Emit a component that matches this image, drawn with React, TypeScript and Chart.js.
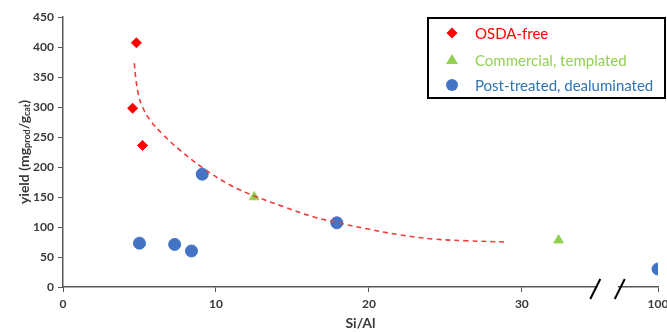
import React, { useEffect, useRef } from 'react';
import { Chart, registerables } from 'chart.js';

Chart.register(...registerables);

// ---- data ----
const osdaX = [4.8, 4.55, 5.2];
const osdaY = [407, 298, 236];
const commercialX = [12.5, 32.4];
const commercialY = [150, 78];
const postX = [9.1, 5.0, 7.3, 8.4, 17.9, 100];
const postY = [188, 73, 71, 60, 107, 30];
const trendX = [4.66, 4.75, 4.92, 5.2, 5.7, 6.5, 7.65, 9.17, 10.92, 12.48, 14.4, 16.36, 17.9, 19.85, 22.0, 24.2, 26.4, 29.0];
const trendY = [373, 350, 322, 300, 278, 255, 228, 198, 170, 152, 134, 117, 107.5, 97, 87, 80, 77, 75];
const xTickValues = [0, 10, 20, 30, 100];
const seriesNames = ['OSDA-free', 'Commercial, templated', 'Post-treated, dealuminated'];

// broken x axis: values past the break are drawn at the axis end
const AXIS_END = 38.9;
const BREAK_A = 34.8;
const BREAK_B = 36.4;
const axisPos = (v: number) => (v > 40 ? AXIS_END : v);

const FONT = 'Lato, "Open Sans", sans-serif';
const TEXT = '#3a3a3a';
const RED = '#ff0000';
const GREEN = '#92d050';
const BLUE = '#4472c4';

const pts = (xs: number[], ys: number[]) => xs.map((x, i) => ({ x: axisPos(x), y: ys[i] }));

const yTitlePlugin = {
  id: 'yTitle',
  afterDraw(chart: any) {
    const { ctx, chartArea } = chart;
    const parts: [string, boolean][] = [
      ['yield (mg', false],
      ['prod', true],
      ['/g', false],
      ['cat', true],
      [')', false],
    ];
    const big = `bold 14px ${FONT}`;
    const small = `bold 9px ${FONT}`;
    ctx.save();
    let total = 0;
    for (const [t, s] of parts) {
      ctx.font = s ? small : big;
      total += ctx.measureText(t).width;
    }
    ctx.translate(24, (chartArea.top + chartArea.bottom) / 2);
    ctx.rotate(-Math.PI / 2);
    ctx.fillStyle = TEXT;
    ctx.textBaseline = 'middle';
    let x = -total / 2;
    for (const [t, s] of parts) {
      ctx.font = s ? small : big;
      ctx.fillText(t, x, s ? 3 : 0);
      x += ctx.measureText(t).width;
    }
    ctx.restore();
  },
};

const breakPlugin = {
  id: 'axisBreak',
  afterDraw(chart: any) {
    const { ctx, chartArea } = chart;
    const xs = chart.scales.x;
    const y = chartArea.bottom;
    const p1 = xs.getPixelForValue(BREAK_A);
    const p2 = xs.getPixelForValue(BREAK_B);
    ctx.save();
    ctx.fillStyle = '#ffffff';
    ctx.fillRect(p1 + 2, y - 3, p2 - p1 - 4, 6);
    ctx.strokeStyle = '#000000';
    ctx.lineWidth = 2;
    for (const p of [p1, p2]) {
      ctx.beginPath();
      ctx.moveTo(p - 5, y + 12);
      ctx.lineTo(p + 5, y - 8);
      ctx.stroke();
    }
    ctx.restore();
  },
};

const legendPlugin = {
  id: 'boxLegend',
  afterDraw(chart: any) {
    const { ctx } = chart;
    const bx = 428, by = 18, bw = 237, bh = 80;
    ctx.save();
    ctx.strokeStyle = '#000000';
    ctx.lineWidth = 2;
    ctx.strokeRect(bx, by, bw, bh);
    const rows = [33, 60, 85];
    const colors = [RED, GREEN, BLUE];
    const textColors = [RED, GREEN, '#2e75b6'];
    const mx = 452;
    rows.forEach((ry, i) => {
      ctx.fillStyle = colors[i];
      ctx.beginPath();
      if (i === 0) {
        ctx.moveTo(mx, ry - 5.5);
        ctx.lineTo(mx + 5.5, ry);
        ctx.lineTo(mx, ry + 5.5);
        ctx.lineTo(mx - 5.5, ry);
      } else if (i === 1) {
        ctx.moveTo(mx, ry - 6);
        ctx.lineTo(mx + 6, ry + 4);
        ctx.lineTo(mx - 6, ry + 4);
      } else {
        ctx.arc(mx, ry, 6, 0, Math.PI * 2);
      }
      ctx.closePath();
      ctx.fill();
      ctx.fillStyle = textColors[i];
      ctx.font = `15px ${FONT}`;
      ctx.textBaseline = 'middle';
      ctx.fillText(seriesNames[i], 475, ry + 1);
    });
    ctx.restore();
  },
};

export default function App() {
  const ref = useRef<HTMLCanvasElement | null>(null);
  useEffect(() => {
    document.body.style.margin = '0';
    const canvas = ref.current;
    if (!canvas) return;
    const chart = new Chart(canvas, {
      type: 'scatter',
      data: {
        datasets: [
          {
            type: 'line',
            label: 'trend',
            data: pts(trendX, trendY),
            borderColor: '#ee3b3b',
            borderWidth: 1.6,
            borderDash: [5, 4],
            pointRadius: 0,
            fill: false,
            tension: 0.4,
            order: 0,
          } as any,
          {
            label: seriesNames[0],
            data: pts(osdaX, osdaY),
            pointStyle: 'rectRot',
            pointRadius: 5,
            backgroundColor: RED,
            borderColor: RED,
            borderWidth: 1,
            order: 1,
          },
          {
            label: seriesNames[1],
            data: pts(commercialX, commercialY),
            pointStyle: 'triangle',
            pointRadius: 5.5,
            backgroundColor: GREEN,
            borderColor: GREEN,
            borderWidth: 1,
            order: 1,
          },
          {
            label: seriesNames[2],
            data: pts(postX, postY),
            pointStyle: 'circle',
            pointRadius: 6,
            backgroundColor: BLUE,
            borderColor: BLUE,
            borderWidth: 1,
            order: 1,
          },
        ],
      },
      options: {
        animation: false,
        responsive: false,
        events: [],
        layout: { autoPadding: false, padding: { top: 17, right: 9, left: 0, bottom: 0 } } as any,
        plugins: { legend: { display: false }, tooltip: { enabled: false } },
        scales: {
          x: {
            type: 'linear',
            min: 0,
            max: AXIS_END,
            afterBuildTicks: (s: any) => {
              s.ticks = xTickValues.map((v) => ({ value: axisPos(v) }));
            },
            afterFit: (s: any) => {
              s.height = 45;
              s.paddingLeft = 0;
              s.paddingRight = 0;
            },
            ticks: {
              autoSkip: false,
              maxRotation: 0,
              padding: 5,
              color: TEXT,
              font: { family: FONT, size: 12, weight: 'bold' },
              callback: (_v: any, i: number) => String(xTickValues[i]),
            },
            grid: { drawOnChartArea: false, drawTicks: true, tickLength: 5, color: '#595959' },
            border: { display: true, color: '#595959', width: 1.5 },
            title: {
              display: true,
              text: 'Si/Al',
              color: TEXT,
              font: { family: FONT, size: 14, weight: 'bold' },
              padding: { top: 1, bottom: 0 },
            },
          },
          y: {
            type: 'linear',
            min: 0,
            max: 450,
            afterFit: (s: any) => {
              s.width = 63;
              s.paddingTop = 0;
              s.paddingBottom = 0;
            },
            ticks: {
              stepSize: 50,
              padding: 4,
              color: TEXT,
              font: { family: FONT, size: 12, weight: 'bold' },
            },
            grid: { drawOnChartArea: false, drawTicks: true, tickLength: 5, color: '#595959' },
            border: { display: true, color: '#595959', width: 1.5 },
          },
        },
      } as any,
      plugins: [yTitlePlugin, breakPlugin, legendPlugin],
    });
    return () => chart.destroy();
  }, []);
  return <canvas ref={ref} width={667} height={332} style={{ display: 'block' }} />;
}
